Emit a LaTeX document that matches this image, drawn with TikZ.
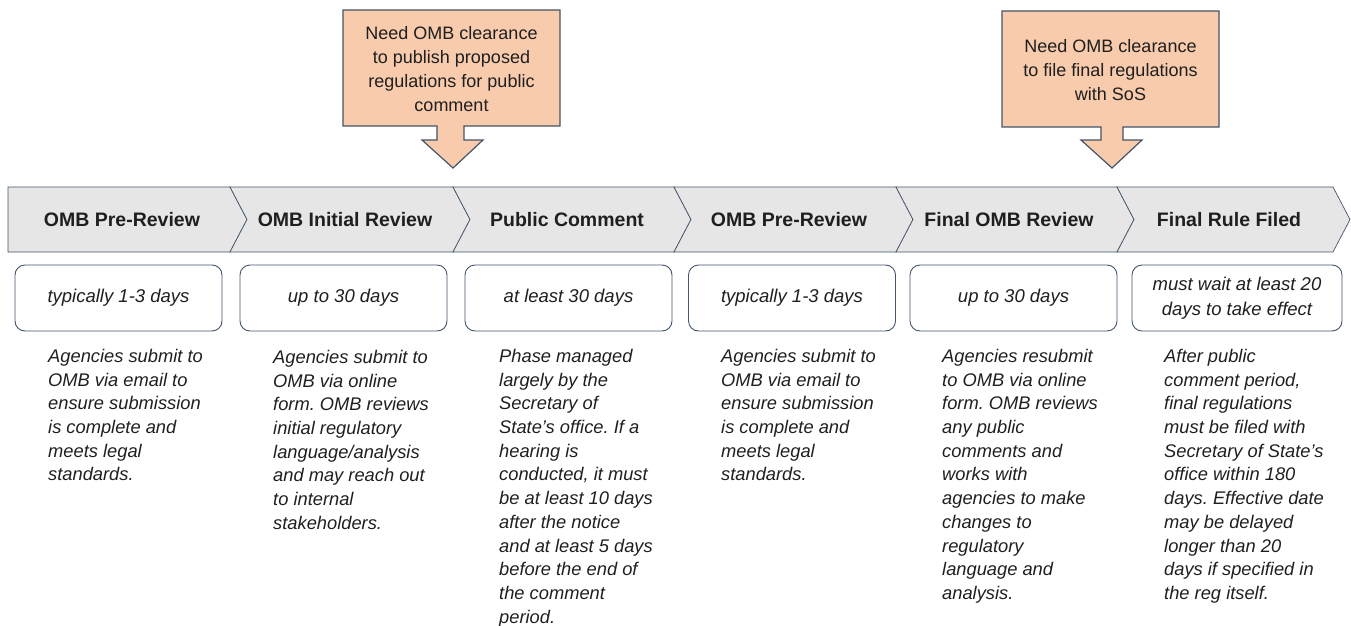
\documentclass[tikz,border=0pt]{standalone}
\usepackage{fontspec}
\setmainfont{Liberation Sans}
\frenchspacing
\definecolor{slate}{HTML}{44546A}
\definecolor{chev}{HTML}{E7E6E6}
\definecolor{peach}{HTML}{F8CBAD}
\definecolor{ink}{HTML}{1F1F1F}
\begin{document}
\begin{tikzpicture}[x=1pt,y=-1pt,
  chevron/.style={fill=chev,draw=slate,line width=0.7pt,line join=miter},
  head/.style={font=\fontsize{19.5}{22}\selectfont\bfseries,text=ink,inner sep=0pt},
  dur/.style={draw=slate,line width=0.9pt,rounded corners=10pt,fill=white,minimum width=207pt,minimum height=66pt,inner sep=0pt,align=center,font=\fontsize{18.5}{25}\selectfont\itshape,text=ink},
  desc/.style={anchor=north west,align=left,inner sep=0pt,font=\fontsize{18.3}{23.7}\selectfont\itshape,text=ink},
  callout/.style={fill=peach,draw=slate,line width=1.2pt,line join=miter},
  ctext/.style={align=center,inner sep=0pt,font=\fontsize{18}{23.8}\selectfont,text=ink}]
\useasboundingbox (0,0) rectangle (1351,626);
% chevron band
\def\ty{187}\def\by{252}\def\my{219.5}\def\dd{17}
\draw[chevron] (8,\ty) -- (230,\ty) -- (247,\my) -- (230,\by) -- (8,\by) -- cycle;
\foreach \a/\b in {230/453,453/674,674/896,896/1117,1117/1333}{
  \draw[chevron] (\a,\ty) -- (\b,\ty) -- (\b+\dd,\my) -- (\b,\by) -- (\a,\by) -- (\a+\dd,\my) -- cycle;
}
% headers
\node[head] (h1) at (122,220) {OMB Pre-Review};
\node[head] (h2) at (345,220) {OMB Initial Review};
\node[head] (h3) at (567,220) {Public Comment};
\node[head] (h4) at (789,220) {OMB Pre-Review};
\node[head] (h5) at (1009,220) {Final OMB Review};
\node[head] (h6) at (1229,220) {Final Rule Filed};
% duration boxes
\node[dur] (d1) at (118.5,298) {typically 1-3 days};
\node[dur] (d2) at (343.5,298) {up to 30 days};
\node[dur] (d3) at (568.5,298) {at least 30 days};
\node[dur] (d4) at (792,298) {typically 1-3 days};
\node[dur] (d5) at (1013.5,298) {up to 30 days};
\node[dur,minimum width=210pt] (d6) at (1237,298) {must wait at least 20\\days to take effect};
% descriptions
\node[desc] (t1) at (48,349) {Agencies submit to\\OMB via email to\\ensure submission\\is complete and\\meets legal\\standards.};
\node[desc] (t2) at (273,350) {Agencies submit to\\OMB via online\\form. OMB reviews\\initial regulatory\\language/analysis\\and may reach out\\to internal\\stakeholders.};
\node[desc] (t3) at (499,349) {Phase managed\\largely by the\\Secretary of\\State’s office. If a\\hearing is\\conducted, it must\\be at least 10 days\\after the notice\\and at least 5 days\\before the end of\\the comment\\period.};
\node[desc] (t4) at (721,349) {Agencies submit to\\OMB via email to\\ensure submission\\is complete and\\meets legal\\standards.};
\node[desc] (t5) at (942,349) {Agencies resubmit\\to OMB via online\\form. OMB reviews\\any public\\comments and\\works with\\agencies to make\\changes to\\regulatory\\language and\\analysis.};
\node[desc] (t6) at (1164,349) {After public\\comment period,\\final regulations\\must be filed with\\Secretary of State’s\\office within 180\\days. Effective date\\may be delayed\\longer than 20\\days if specified in\\the reg itself.};
% callouts
\draw[callout] (343,10) -- (560,10) -- (560,126) -- (464,126) -- (464,140) -- (483,140) -- (453,168) -- (422,140) -- (437,140) -- (437,126) -- (343,126) -- cycle;
\node[ctext] (c1) at (451.5,69) {Need OMB clearance\\to publish proposed\\regulations for public\\comment};
\draw[callout] (1002,11) -- (1219,11) -- (1219,127) -- (1123,127) -- (1123,140) -- (1142,140) -- (1112,168) -- (1081,140) -- (1101,140) -- (1101,127) -- (1002,127) -- cycle;
\node[ctext] (c2) at (1110.5,70) {Need OMB clearance\\to file final regulations\\with SoS};
\end{tikzpicture}
\end{document}
